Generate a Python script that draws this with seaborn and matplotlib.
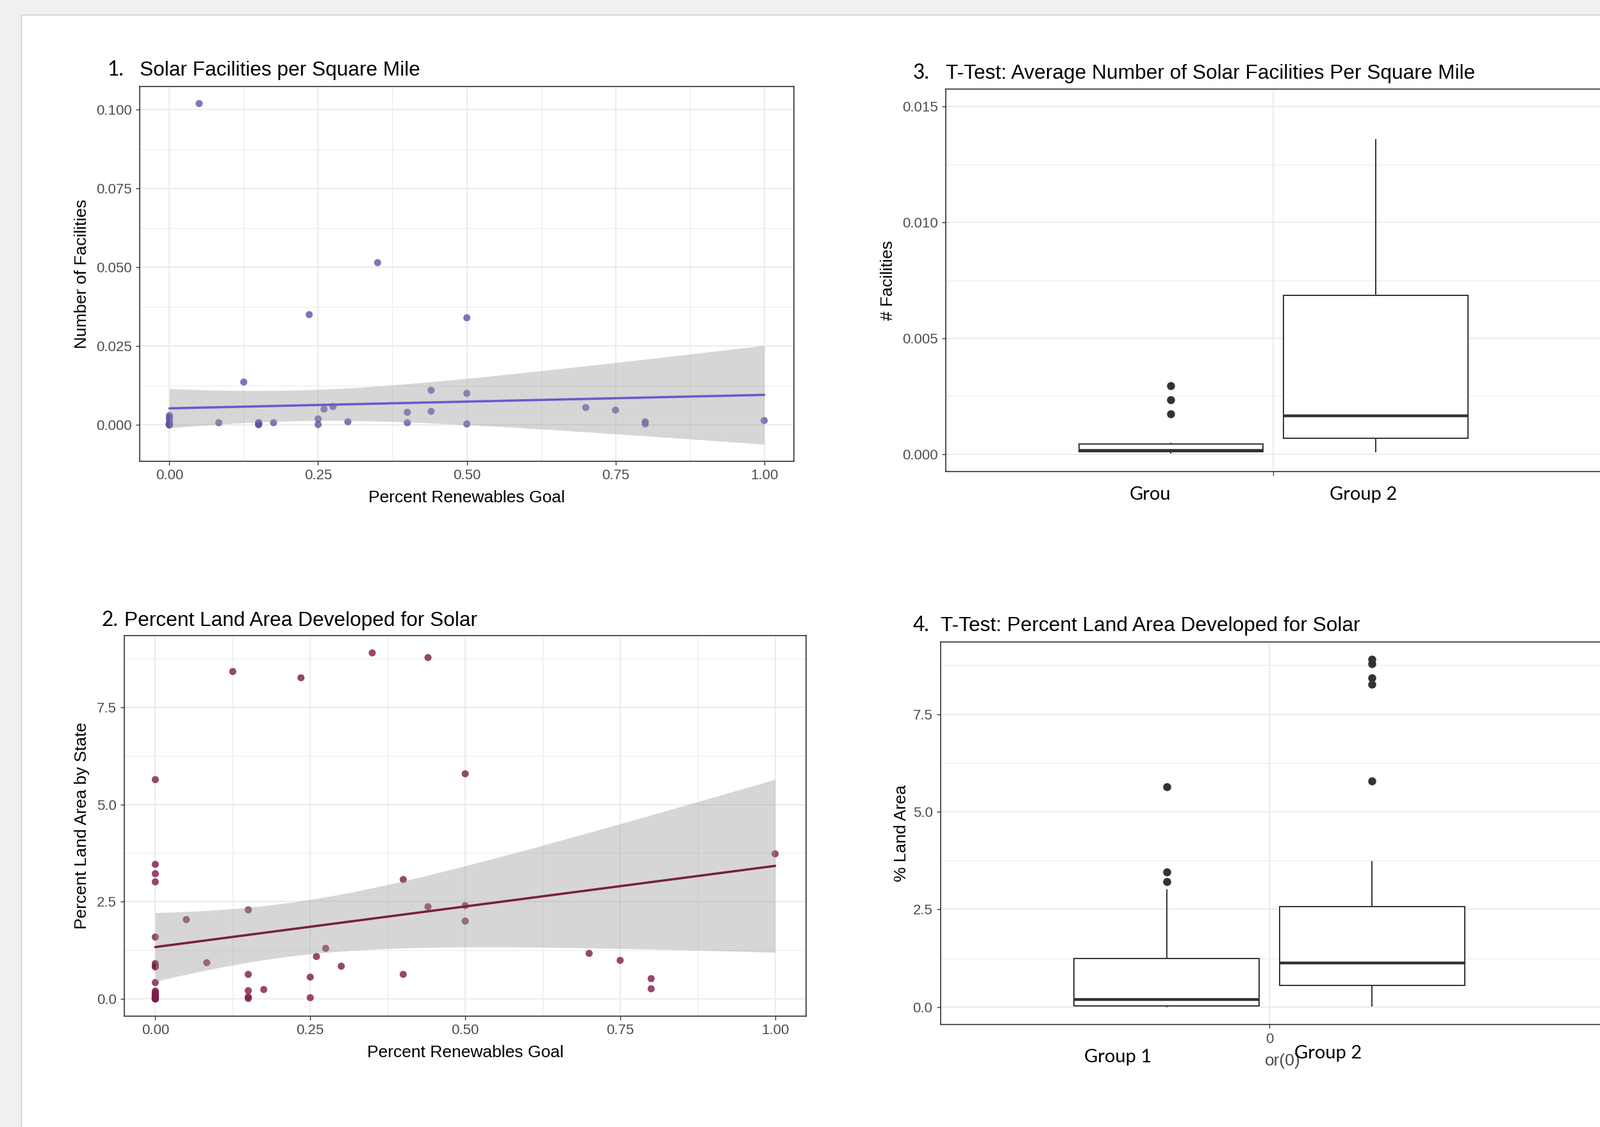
import numpy as np
import pandas as pd
import matplotlib
matplotlib.use("Agg")
import matplotlib.pyplot as plt
import seaborn as sns
from matplotlib.patches import Rectangle
from matplotlib.ticker import FormatStrFormatter

# ---------------- data ----------------
# Group 1: states with no renewables goal (goal = 0)
goal_g1 = [0.0] * 19
fac_g1 = [0.00296, 0.00235, 0.00173, 0.0005, 0.0005, 0.0004, 0.00025, 0.0002,
          0.00018, 0.00016, 0.00015, 0.00014, 0.00013, 0.00012, 0.0001, 0.0001,
          0.00008, 0.00005, 0.00003]
land_g1 = [5.64, 3.46, 3.22, 3.01, 1.59, 0.91, 0.85, 0.82, 0.42, 0.20, 0.16,
           0.12, 0.07, 0.03, 0.03, 0.02, 0.01, 0.0, 0.0]
# Group 2: states with a renewables goal
goal_g2 = [0.05, 0.083, 0.125, 0.15, 0.15, 0.15, 0.15, 0.15, 0.175, 0.235,
           0.25, 0.25, 0.26, 0.275, 0.30, 0.35, 0.40, 0.40, 0.44, 0.44,
           0.50, 0.50, 0.50, 0.70, 0.75, 0.80, 0.80, 1.00]
fac_g2 = [0.102, 0.0007, 0.0136, 0.0006, 0.00007, 0.0002, 0.0003, 0.0007,
          0.0007, 0.035, 0.0019, 0.0001, 0.005, 0.0058, 0.001, 0.0515, 0.004,
          0.0007, 0.011, 0.0043, 0.034, 0.010, 0.0003, 0.0055, 0.0047, 0.001,
          0.0003, 0.0014]
land_g2 = [2.04, 0.93, 8.42, 2.29, 0.63, 0.21, 0.05, 0.01, 0.24, 8.26, 0.56,
           0.03, 1.09, 1.30, 0.84, 8.90, 3.07, 0.63, 8.78, 2.37, 5.79, 2.40,
           2.00, 1.17, 0.99, 0.52, 0.26, 3.73]
# states plotted in the scatter plots but not in either t-test group
goal_na = [0.0, 0.0, 0.0]
fac_na = [0.0001, 0.00005, 0.0002]
land_na = [0.05, 0.10, 0.0]
group_names = ["Group 1", "Group 2"]

df = pd.DataFrame({
    "goal": goal_g1 + goal_g2 + goal_na,
    "fac": fac_g1 + fac_g2 + fac_na,
    "land": land_g1 + land_g2 + land_na,
    "group": [group_names[0]] * len(goal_g1) + [group_names[1]] * len(goal_g2)
             + ["none"] * len(goal_na),
})
df["pos"] = "0"
df_box = df[df["group"].isin(group_names)]

# ---------------- figure ----------------
W, H = 2497, 1759
sns.set_theme(style="white")
plt.rcParams["font.family"] = ["Liberation Sans", "DejaVu Sans"]
plt.rcParams["text.color"] = "black"

fig = plt.figure(figsize=(W / 100, H / 100), dpi=100)
fig.patch.set_facecolor("#f0f0f0")
fig.patches.append(Rectangle((33 / W, -0.01), 1.0, 1 - 23 / H + 0.01,
                             transform=fig.transFigure, facecolor="white",
                             edgecolor="#c8c8c8", lw=1.0, zorder=-5))


def rect(left, top, right, bottom):
    return [left / W, 1 - bottom / H, (right - left) / W, (bottom - top) / H]


def ftext(x, y, s, **kw):
    fig.text(x / W, 1 - y / H, s, **kw)


GRID = "#ebebeb"
DARK = "#333333"


def style(ax, xmaj, xmin, ymaj, ymin, xfmt=None, yfmt=None):
    ax.set_facecolor("white")
    for sp in ax.spines.values():
        sp.set_visible(True)
        sp.set_color(DARK)
        sp.set_linewidth(1.2)
    ax.set_xticks(xmaj)
    ax.set_xticks(xmin, minor=True)
    ax.set_yticks(ymaj)
    ax.set_yticks(ymin, minor=True)
    ax.grid(True, which="major", color=GRID, lw=1.4)
    ax.grid(True, which="minor", color=GRID, lw=0.8)
    ax.set_axisbelow(True)
    ax.tick_params(which="major", direction="out", length=4.5, width=1.0,
                   color=DARK, labelsize=16, labelcolor="#4d4d4d", pad=4.5,
                   bottom=True, left=True)
    ax.tick_params(which="minor", length=0, bottom=False, left=False)
    if xfmt:
        ax.xaxis.set_major_formatter(FormatStrFormatter(xfmt))
    if yfmt:
        ax.yaxis.set_major_formatter(FormatStrFormatter(yfmt))


def scatter_fit(ax, xcol, ycol, pt_color, line_color):
    sns.scatterplot(data=df, x=xcol, y=ycol, ax=ax, color=pt_color, alpha=0.8,
                    s=64, edgecolor="none", linewidth=0, zorder=2, legend=False)
    xa = df[xcol].to_numpy(float)
    ya = df[ycol].to_numpy(float)
    n = len(xa)
    b1, b0 = np.polyfit(xa, ya, 1)
    grid = np.linspace(xa.min(), xa.max(), 80)
    fit = b0 + b1 * grid
    resid = ya - (b0 + b1 * xa)
    s = np.sqrt((resid ** 2).sum() / (n - 2))
    sxx = ((xa - xa.mean()) ** 2).sum()
    se = s * np.sqrt(1 / n + (grid - xa.mean()) ** 2 / sxx)
    t = 2.0106  # Student t, 97.5%, df = 48
    lo, hi = fit - t * se, fit + t * se
    ax.fill_between(grid, lo, hi, color="#999999", alpha=0.4, lw=0, zorder=3)
    sns.lineplot(x=grid, y=fit, ax=ax, color=line_color, lw=2.6, zorder=4)
    ymin = min(ya.min(), lo.min())
    ymax = max(ya.max(), hi.max())
    pad = 0.05 * (ymax - ymin)
    ax.set_ylim(ymin - pad, ymax + pad)
    ax.set_xlim(-0.05, 1.05)


def boxes(ax, ycol):
    sns.boxplot(data=df_box, x="pos", y=ycol, hue="group",
                hue_order=group_names, ax=ax, dodge=True, width=0.75, gap=0.1,
                palette={g: "white" for g in group_names}, saturation=1,
                linecolor=DARK, linewidth=1.4, fliersize=8, whis=1.5,
                legend=False, showcaps=False,
                flierprops=dict(marker="o", markerfacecolor=DARK,
                                markeredgecolor=DARK),
                medianprops=dict(linewidth=3.2, color=DARK))


xmaj = [0, 0.25, 0.5, 0.75, 1.0]
xmin = [0.125, 0.375, 0.625, 0.875]

# ---- Plot 1 ----
ax1 = fig.add_axes(rect(218, 135, 1239, 720))
scatter_fit(ax1, "goal", "fac", "#5e52a8", "#6a5acd")
style(ax1, xmaj, xmin, [0, 0.025, 0.05, 0.075, 0.1],
      [0.0125, 0.0375, 0.0625, 0.0875], "%.2f", "%.3f")
ax1.set_xlim(-0.05, 1.05)
ax1.set_xlabel("Percent Renewables Goal", fontsize=19, color="black", labelpad=8)
ax1.set_ylabel("Number of Facilities", fontsize=19, color="black", labelpad=7)

# ---- Plot 2 ----
ax2 = fig.add_axes(rect(194, 992, 1258, 1586))
scatter_fit(ax2, "goal", "land", "#7d1a47", "#7a1e45")
style(ax2, xmaj, xmin, [0, 2.5, 5.0, 7.5], [1.25, 3.75, 6.25, 8.75],
      "%.2f", "%.1f")
ax2.set_xlim(-0.05, 1.05)
ax2.set_xlabel("Percent Renewables Goal", fontsize=19, color="black", labelpad=8)
ax2.set_ylabel("Percent Land Area by State", fontsize=19, color="black",
               labelpad=8)

# ---- Plot 3 ----
ax3 = fig.add_axes(rect(1476, 139, 2500, 736))
boxes(ax3, "fac")
style(ax3, [0], [], [0, 0.005, 0.010, 0.015], [0.0025, 0.0075, 0.0125],
      None, "%.3f")
ax3.set_xticklabels([""])
ax3.set_xlim(-0.6, 0.602)
ax3.set_ylim(-0.00075, 0.01575)
ax3.set_xlabel("")
ax3.set_ylabel("# Facilities", fontsize=19, color="black", labelpad=7)

# ---- Plot 4 ----
ax4 = fig.add_axes(rect(1468, 1002, 2500, 1599))
boxes(ax4, "land")
style(ax4, [0], [], [0, 2.5, 5.0, 7.5], [1.25, 3.75, 6.25, 8.75], None, "%.1f")
ax4.set_xticklabels(["0"])
ax4.set_xlim(-0.6, 0.607)
ymax4 = max(df_box["land"])
ax4.set_ylim(-0.05 * ymax4, ymax4 * 1.05)
ax4.set_xlabel("")
ax4.set_ylabel("% Land Area", fontsize=19, color="black", labelpad=4)

# ---- titles and document text ----
TF = 22.8
NUM = dict(fontsize=TF, family=["Lato", "DejaVu Sans"], va="baseline",
           color="black")
TTL = dict(fontsize=TF, va="baseline", color="black")
ftext(167, 118, "1.", **NUM)
ftext(218, 118, "Solar Facilities per Square Mile", **TTL)
ftext(159, 977, "2.", **NUM)
ftext(194, 977, "Percent Land Area Developed for Solar", **TTL)
ftext(1425, 123, "3.", **NUM)
ftext(1476, 123, "T-Test: Average Number of Solar Facilities Per Square Mile",
      **TTL)
ftext(1425, 985, "4.", **NUM)
ftext(1468, 985, "T-Test: Percent Land Area Developed for Solar", **TTL)

ftext(2002, 1656, "or(0)", fontsize=19, color="#4d4d4d", ha="center",
      va="center")
LBL = dict(fontsize=21, family=["Lato", "DejaVu Sans"], color="black",
           ha="center", va="center")
ftext(1795, 772, "Grou", **LBL)
ftext(2128, 772, "Group 2", **LBL)
ftext(1745, 1650, "Group 1", **LBL)
ftext(2073, 1644, "Group 2", **LBL)

fig.savefig("out.png", dpi=100, facecolor=fig.get_facecolor())
